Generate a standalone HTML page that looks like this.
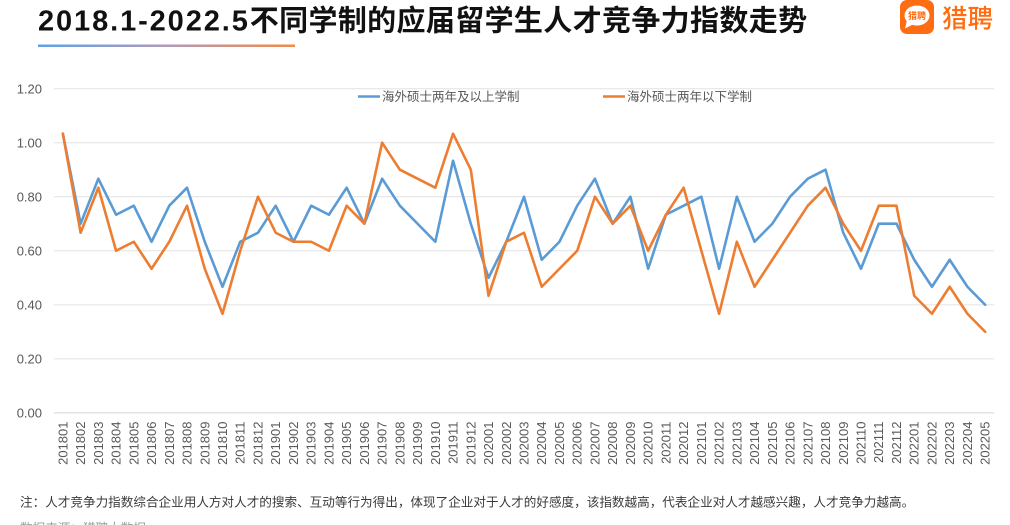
<!DOCTYPE html>
<html>
<head>
<meta charset="utf-8">
<style>
  html,body{margin:0;padding:0;background:#fff;}
  body{width:1010px;height:525px;overflow:hidden;}
  svg{display:block;}
  .ax{font-family:"Liberation Sans","Noto Sans CJK SC",sans-serif;font-size:13px;fill:#595959;}
  .lg{font-family:"Liberation Sans","Noto Sans CJK SC",sans-serif;font-size:12.5px;fill:#595959;}
</style>
</head>
<body>
<svg width="1010" height="525" viewBox="0 0 1010 525" xmlns="http://www.w3.org/2000/svg">
  <defs>
    <linearGradient id="ul" x1="0" y1="0" x2="1" y2="0">
      <stop offset="0" stop-color="#5fa2e8"/>
      <stop offset="0.5" stop-color="#b09ab8"/>
      <stop offset="1" stop-color="#f28a45"/>
    </linearGradient>
  </defs>
  <rect width="1010" height="525" fill="#fff"/>

  <!-- Title -->
  <text x="38" y="30.5" style="font-family:'Liberation Sans','Noto Sans CJK SC',sans-serif;font-size:29px;font-weight:bold;fill:#111;"><tspan style="letter-spacing:1.9px">2018.1-2022.5</tspan><tspan style="letter-spacing:0.35px">不同学制的应届留学生人才竞争力指数走势</tspan></text>
  <rect x="38" y="44.5" width="257" height="2.5" fill="url(#ul)"/>

  <!-- Logo -->
  <rect x="900" y="0" width="34" height="34" rx="7" fill="#ff6d12"/>
  <ellipse cx="917" cy="15.5" rx="12.5" ry="10" fill="#fff"/>
  <path d="M907 20 L905 28.5 L914 24 Z" fill="#fff"/>
  <text x="917" y="19" text-anchor="middle" style="font-family:'Noto Sans CJK SC',sans-serif;font-size:9px;font-weight:bold;fill:#ff6d12;">猎聘</text>
  <text x="942" y="27.5" style="font-family:'Noto Sans CJK SC',sans-serif;font-size:25.5px;font-weight:500;fill:#ff6d12;">猎聘</text>

  <!-- Grid -->
  <g stroke="#e6e6e6" stroke-width="1.2">
    <line x1="54" y1="88.7" x2="994" y2="88.7"/>
    <line x1="54" y1="142.7" x2="994" y2="142.7"/>
    <line x1="54" y1="196.7" x2="994" y2="196.7"/>
    <line x1="54" y1="250.7" x2="994" y2="250.7"/>
    <line x1="54" y1="304.8" x2="994" y2="304.8"/>
    <line x1="54" y1="358.8" x2="994" y2="358.8"/>
  </g>
  <line x1="54" y1="412.8" x2="994" y2="412.8" stroke="#dcdcdc" stroke-width="1.2"/>

  <!-- Y labels -->
  <g class="ax" text-anchor="end">
    <text x="42" y="93.3">1.20</text>
    <text x="42" y="147.3">1.00</text>
    <text x="42" y="201.3">0.80</text>
    <text x="42" y="255.3">0.60</text>
    <text x="42" y="309.4">0.40</text>
    <text x="42" y="363.4">0.20</text>
    <text x="42" y="417.4">0.00</text>
  </g>

  <!-- X labels -->
  <g class="ax" text-anchor="end">
    <text transform="translate(67.4,421.5) rotate(-90)">201801</text>
    <text transform="translate(85.1,421.5) rotate(-90)">201802</text>
    <text transform="translate(102.8,421.5) rotate(-90)">201803</text>
    <text transform="translate(120.6,421.5) rotate(-90)">201804</text>
    <text transform="translate(138.3,421.5) rotate(-90)">201805</text>
    <text transform="translate(156.0,421.5) rotate(-90)">201806</text>
    <text transform="translate(173.8,421.5) rotate(-90)">201807</text>
    <text transform="translate(191.5,421.5) rotate(-90)">201808</text>
    <text transform="translate(209.3,421.5) rotate(-90)">201809</text>
    <text transform="translate(227.0,421.5) rotate(-90)">201810</text>
    <text transform="translate(244.7,421.5) rotate(-90)">201811</text>
    <text transform="translate(262.5,421.5) rotate(-90)">201812</text>
    <text transform="translate(280.2,421.5) rotate(-90)">201901</text>
    <text transform="translate(297.9,421.5) rotate(-90)">201902</text>
    <text transform="translate(315.7,421.5) rotate(-90)">201903</text>
    <text transform="translate(333.4,421.5) rotate(-90)">201904</text>
    <text transform="translate(351.1,421.5) rotate(-90)">201905</text>
    <text transform="translate(368.9,421.5) rotate(-90)">201906</text>
    <text transform="translate(386.6,421.5) rotate(-90)">201907</text>
    <text transform="translate(404.4,421.5) rotate(-90)">201908</text>
    <text transform="translate(422.1,421.5) rotate(-90)">201909</text>
    <text transform="translate(439.8,421.5) rotate(-90)">201910</text>
    <text transform="translate(457.6,421.5) rotate(-90)">201911</text>
    <text transform="translate(475.3,421.5) rotate(-90)">201912</text>
    <text transform="translate(493.0,421.5) rotate(-90)">202001</text>
    <text transform="translate(510.8,421.5) rotate(-90)">202002</text>
    <text transform="translate(528.5,421.5) rotate(-90)">202003</text>
    <text transform="translate(546.2,421.5) rotate(-90)">202004</text>
    <text transform="translate(564.0,421.5) rotate(-90)">202005</text>
    <text transform="translate(581.7,421.5) rotate(-90)">202006</text>
    <text transform="translate(599.5,421.5) rotate(-90)">202007</text>
    <text transform="translate(617.2,421.5) rotate(-90)">202008</text>
    <text transform="translate(634.9,421.5) rotate(-90)">202009</text>
    <text transform="translate(652.7,421.5) rotate(-90)">202010</text>
    <text transform="translate(670.4,421.5) rotate(-90)">202011</text>
    <text transform="translate(688.1,421.5) rotate(-90)">202012</text>
    <text transform="translate(705.9,421.5) rotate(-90)">202101</text>
    <text transform="translate(723.6,421.5) rotate(-90)">202102</text>
    <text transform="translate(741.3,421.5) rotate(-90)">202103</text>
    <text transform="translate(759.1,421.5) rotate(-90)">202104</text>
    <text transform="translate(776.8,421.5) rotate(-90)">202105</text>
    <text transform="translate(794.5,421.5) rotate(-90)">202106</text>
    <text transform="translate(812.3,421.5) rotate(-90)">202107</text>
    <text transform="translate(830.0,421.5) rotate(-90)">202108</text>
    <text transform="translate(847.8,421.5) rotate(-90)">202109</text>
    <text transform="translate(865.5,421.5) rotate(-90)">202110</text>
    <text transform="translate(883.2,421.5) rotate(-90)">202111</text>
    <text transform="translate(901.0,421.5) rotate(-90)">202112</text>
    <text transform="translate(918.7,421.5) rotate(-90)">202201</text>
    <text transform="translate(936.4,421.5) rotate(-90)">202202</text>
    <text transform="translate(954.2,421.5) rotate(-90)">202203</text>
    <text transform="translate(971.9,421.5) rotate(-90)">202204</text>
    <text transform="translate(989.6,421.5) rotate(-90)">202205</text>
  </g>

  <!-- Legend -->
  <line x1="358" y1="96.5" x2="380" y2="96.5" stroke="#5b9bd5" stroke-width="2.5"/>
  <text class="lg" x="382" y="101">海外硕士两年及以上学制</text>
  <line x1="603" y1="96.5" x2="625" y2="96.5" stroke="#ed7d31" stroke-width="2.5"/>
  <text class="lg" x="627" y="101">海外硕士两年以下学制</text>

  <!-- Series -->
  <polyline fill="none" stroke="#5b9bd5" stroke-width="2.6" stroke-linejoin="round" stroke-linecap="round"
    points="62.87,133.70 80.61,223.73 98.34,178.71 116.08,214.73 133.81,205.72 151.55,241.74 169.29,205.72 187.02,187.72 204.76,241.74 222.49,286.75 240.23,241.74 257.97,232.73 275.70,205.72 293.44,241.74 311.17,205.72 328.91,214.73 346.65,187.72 364.38,223.73 382.12,178.71 399.85,205.72 417.59,223.73 435.33,241.74 453.06,160.71 470.80,223.73 488.53,277.75 506.27,241.74 524.01,196.72 541.74,259.74 559.48,241.74 577.21,205.72 594.95,178.71 612.69,223.73 630.42,196.72 648.16,268.75 665.89,214.73 683.63,205.72 701.37,196.72 719.10,268.75 736.84,196.72 754.57,241.74 772.31,223.73 790.05,196.72 807.78,178.71 825.52,169.71 843.25,232.73 860.99,268.75 878.73,223.73 896.46,223.73 914.20,259.74 931.93,286.75 949.67,259.74 967.41,286.75 985.14,304.76"/>
  <polyline fill="none" stroke="#ed7d31" stroke-width="2.6" stroke-linejoin="round" stroke-linecap="round"
    points="62.87,133.70 80.61,232.73 98.34,187.72 116.08,250.74 133.81,241.74 151.55,268.75 169.29,241.74 187.02,205.72 204.76,268.75 222.49,313.76 240.23,250.74 257.97,196.72 275.70,232.73 293.44,241.74 311.17,241.74 328.91,250.74 346.65,205.72 364.38,223.73 382.12,142.70 399.85,169.71 417.59,178.71 435.33,187.72 453.06,133.70 470.80,169.71 488.53,295.76 506.27,241.74 524.01,232.73 541.74,286.75 559.48,268.75 577.21,250.74 594.95,196.72 612.69,223.73 630.42,205.72 648.16,250.74 665.89,214.73 683.63,187.72 701.37,250.74 719.10,313.76 736.84,241.74 754.57,286.75 772.31,259.74 790.05,232.73 807.78,205.72 825.52,187.72 843.25,223.73 860.99,250.74 878.73,205.72 896.46,205.72 914.20,295.76 931.93,313.76 949.67,286.75 967.41,313.76 985.14,331.77"/>

  <!-- Footnote -->
  <text x="20" y="506.5" style="font-family:'Liberation Sans','Noto Sans CJK SC',sans-serif;font-size:12.6px;fill:#3a3a3a;">注：人才竞争力指数综合企业用人方对人才的搜索、互动等行为得出，体现了企业对于人才的好感度，该指数越高，代表企业对人才越感兴趣，人才竞争力越高。</text>
  <text x="20" y="532.5" style="font-family:'Liberation Sans','Noto Sans CJK SC',sans-serif;font-size:12.6px;fill:#9a9a9a;">数据来源：猎聘大数据</text>
</svg>
</body>
</html>
